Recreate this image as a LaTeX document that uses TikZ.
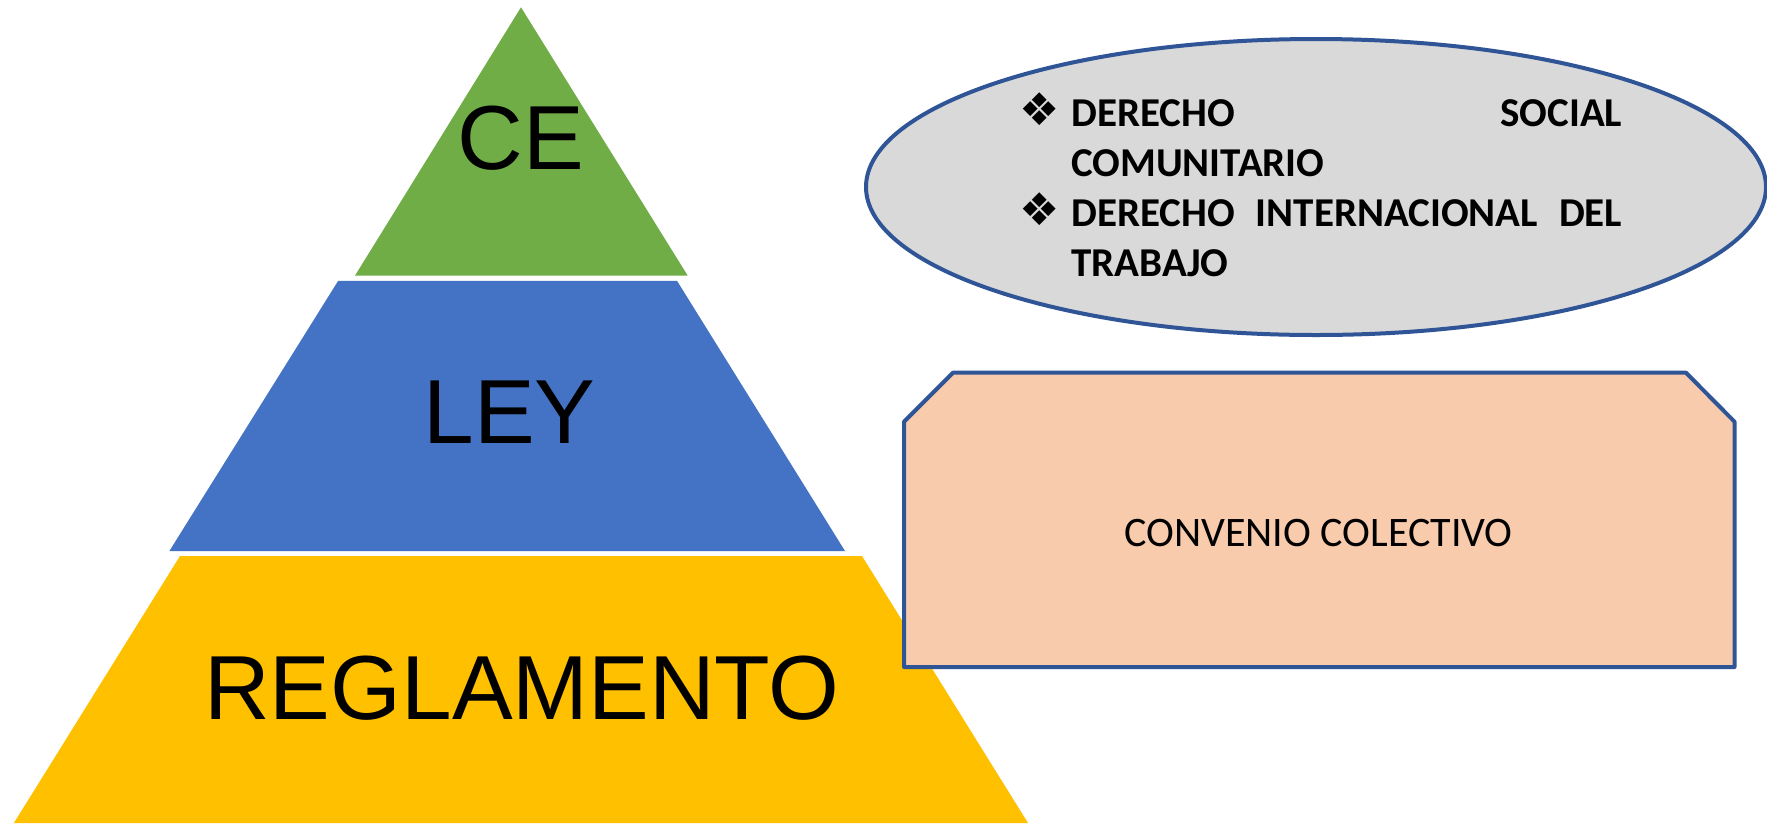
\documentclass[tikz,border=0pt]{standalone}
\usepackage{fontspec}
\setmainfont{Liberation Sans}
\newfontfamily\calibri{Carlito}
\newfontfamily\dejavu{DejaVu Sans}
\definecolor{pgreen}{HTML}{70AD47}
\definecolor{pblue}{HTML}{4472C4}
\definecolor{pyellow}{HTML}{FFC000}
\definecolor{edgeblue}{HTML}{2F5597}
\definecolor{ellgray}{HTML}{D9D9D9}
\definecolor{boxpeach}{HTML}{F8CBAD}
\tikzset{
  layertext/.style={inner sep=0pt, anchor=base, font=\fontsize{91}{110}\selectfont, text=black},
  elltext/.style={inner sep=0pt, anchor=base west, font=\calibri\bfseries\fontsize{41}{50}\selectfont},
  bullettext/.style={inner sep=0pt, anchor=base west, font=\dejavu\fontsize{45}{50}\selectfont},
  outline/.style={draw=edgeblue, line width=4pt, line join=round}
}
\begin{document}
\begin{tikzpicture}[x=1pt,y=-1pt]
\useasboundingbox (0,0) rectangle (1767,823);
\fill[white] (0,0) rectangle (1767,823);
% pyramid layers
\fill[pgreen] (521,7.3) -- (687.7,275.6) -- (355,275.6) -- cycle;
\fill[pblue] (338.2,280.8) -- (677,280.8) -- (845,551) -- (169.4,551) -- cycle;
\fill[pyellow] (180,556) -- (862,556) -- (1028,823) -- (13.9,823) -- cycle;
\node[layertext] (ce) at (520.5,169) {CE};
\node[layertext] (ley) at (509.5,443.6) {LEY};
\node[layertext] (regl) at (522,719) {REGLAMENTO};
% ellipse
\draw[outline, fill=ellgray] (1316,187) ellipse [x radius=450pt, y radius=148pt];
\node[bullettext] (b1) at (1019,125.5) {❖};
\node[bullettext] (b2) at (1019,225.5) {❖};
\node[elltext] (l1) at (1071,126.7) {\makebox[551pt]{DERECHO\hfill SOCIAL}};
\node[elltext] (l2) at (1071,176.7) {COMUNITARIO};
\node[elltext] (l3) at (1071,226.7) {\makebox[551pt]{DERECHO\hfill INTERNACIONAL\hfill DEL}};
\node[elltext] (l4) at (1071,276.7) {TRABAJO};
% snipped box
\draw[outline, fill=boxpeach] (953,372.7) -- (1686,372.7) -- (1734.5,421.7) -- (1734.5,667) -- (904,667) -- (904,421.7) -- cycle;
\node[inner sep=0pt, anchor=base, font=\calibri\fontsize{42}{50}\selectfont] (conv) at (1318.5,546) {CONVENIO COLECTIVO};
\end{tikzpicture}
\end{document}
